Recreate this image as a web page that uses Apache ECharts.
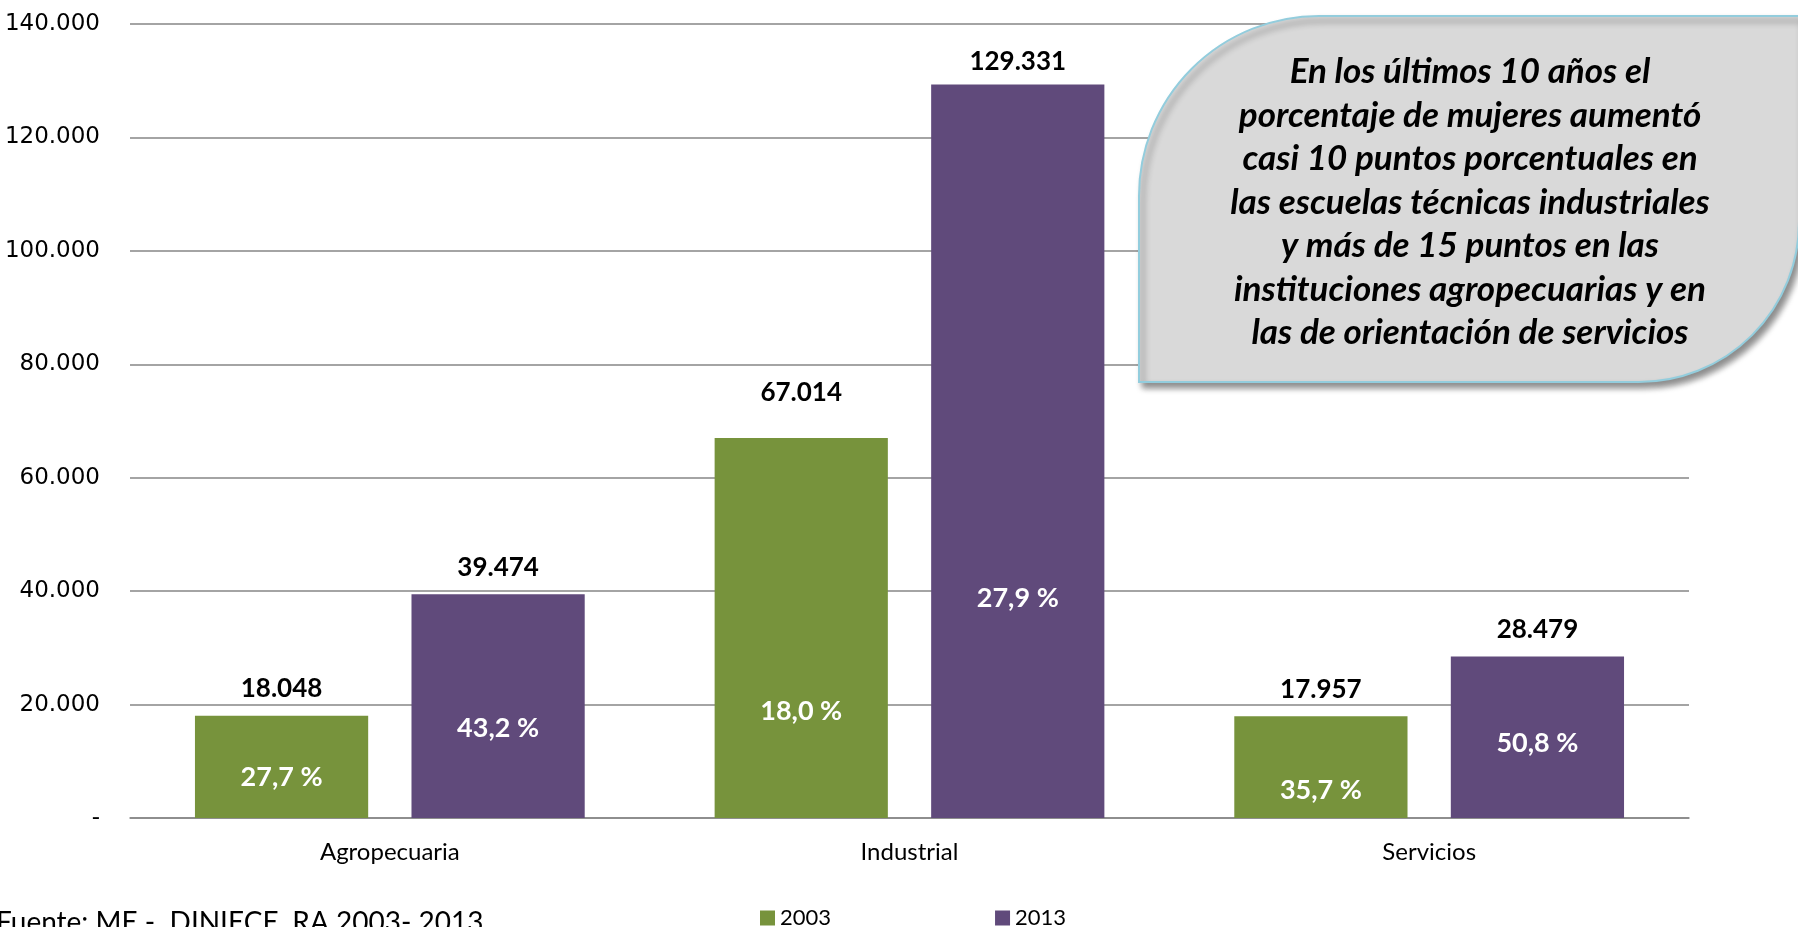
<!DOCTYPE html>
<html>
<head>
<meta charset="utf-8">
<script src="https://cdn.jsdelivr.net/npm/echarts@6/dist/echarts.min.js"></script>
<style>
  html, body { margin: 0; padding: 0; background: #fff; }
  #chart { width: 1798px; height: 927px; }
</style>
</head>
<body>
<div id="chart"></div>
<script>
// datos
const categorias = ['Agropecuaria', 'Industrial', 'Servicios']
const matricula2003 = [18048, 67014, 17957]
const matricula2013 = [39474, 129331, 28479]
const pctMujeres2003 = [27.7, 18.0, 35.7]
const pctMujeres2013 = [43.2, 27.9, 50.8]
const ticksY = [0, 20000, 40000, 60000, 80000, 100000, 120000, 140000]

// posicion de las etiquetas en cada barra (layout, no datos)
const posPct2003 = ['60%', '72%', '73%']
const posPct2013 = ['60%', '70%', '54%']
const distTope2003 = [14, 32, 14]
const distTope2013 = [14, 10, 14]

const textoNota = 'En los últimos 10 años el\nporcentaje de mujeres aumentó\ncasi 10 puntos porcentuales en\nlas escuelas técnicas industriales\ny más de 15 puntos en las\ninstituciones agropecuarias y en\nlas de orientación de servicios'

const verde = '#77933C'
const violeta = '#604A7B'
const fuente = 'Lato'

const fmtMiles = (v) => {
  if (v === 0) return '-'
  return String(v).replace(/\B(?=(\d{3})+(?!\d))/g, '.')
}
const fmtPct = (v) => v.toFixed(1).replace('.', ',') + ' %'

const chart = echarts.init(document.getElementById('chart'))

const serieBase = (nombre, valores, pcts, pos, color, pila) => ({
  name: nombre,
  type: 'bar',
  stack: pila,
  barGap: '25%',
  barCategoryGap: '25%',
  itemStyle: { color: color },
  data: valores.map((v, i) => ({
    value: v,
    label: { position: ['50%', pos[i]] }
  })),
  label: {
    show: true,
    align: 'center',
    verticalAlign: 'middle',
    color: '#fff',
    fontFamily: fuente,
    fontWeight: 'bold',
    fontSize: 27,
    formatter: (p) => fmtPct(pcts[p.dataIndex])
  },
  animation: false
})

// serie de altura cero apilada encima para poner el total arriba
const serieTope = (nombre, valores, dist, pila) => ({
  name: nombre,
  type: 'bar',
  stack: pila,
  itemStyle: { color: 'rgba(0,0,0,0)' },
  data: valores.map((v, i) => ({ value: 0, label: { distance: dist[i] } })),
  label: {
    show: true,
    position: 'top',
    color: '#000',
    fontFamily: fuente,
    fontWeight: 'bold',
    fontSize: 26,
    formatter: (p) => fmtMiles(valores[p.dataIndex])
  },
  tooltip: { show: false },
  animation: false
})

const option = {
  animation: false,
  grid: { left: 130, right: 109, top: 24, bottom: 109 },
  legend: {
    data: ['2003', '2013'],
    left: 755,
    top: 902,
    icon: 'rect',
    itemWidth: 15,
    itemHeight: 15,
    itemGap: 164,
    textStyle: { fontFamily: fuente, fontSize: 22, color: '#000' }
  },
  xAxis: {
    type: 'category',
    data: categorias,
    axisTick: { show: false },
    axisLine: { lineStyle: { color: '#868686', width: 1.5 } },
    axisLabel: { fontFamily: fuente, fontSize: 24, color: '#000', margin: 22 }
  },
  yAxis: {
    type: 'value',
    min: ticksY[0],
    max: ticksY[ticksY.length - 1],
    interval: 20000,
    axisLine: { show: false },
    axisTick: { show: false },
    splitLine: { lineStyle: { color: '#868686', width: 1.5 } },
    axisLabel: {
      fontFamily: 'DejaVu Sans',
      fontSize: 23,
      color: '#000',
      margin: 30,
      formatter: fmtMiles
    }
  },
  series: [
    serieBase('2003', matricula2003, pctMujeres2003, posPct2003, verde, 'a'),
    serieTope('2003 total', matricula2003, distTope2003, 'a'),
    serieBase('2013', matricula2013, pctMujeres2013, posPct2013, violeta, 'b'),
    serieTope('2013 total', matricula2013, distTope2013, 'b')
  ],
  graphic: [
    {
      type: 'rect',
      z: 100,
      shape: { x: 1139, y: 16, width: 660, height: 366, r: [180, 0, 160, 0] },
      style: {
        fill: '#D9D9D9',
        stroke: '#93CDDD',
        lineWidth: 2,
        shadowBlur: 6,
        shadowOffsetX: 4,
        shadowOffsetY: 5,
        shadowColor: 'rgba(0,0,0,0.45)'
      }
    },
    {
      type: 'text',
      z: 101,
      x: 1470,
      y: 50,
      style: {
        text: textoNota,
        align: 'center',
        verticalAlign: 'top',
        fill: '#000',
        font: 'italic bold 35px Lato',
        lineHeight: 43.5
      }
    },
    {
      type: 'text',
      x: -4,
      y: 909,
      style: {
        text: 'Fuente: ME -  DINIECE. RA 2003- 2013',
        fill: '#000',
        font: '28px Lato'
      }
    }
  ]
}

chart.setOption(option)
</script>
</body>
</html>
